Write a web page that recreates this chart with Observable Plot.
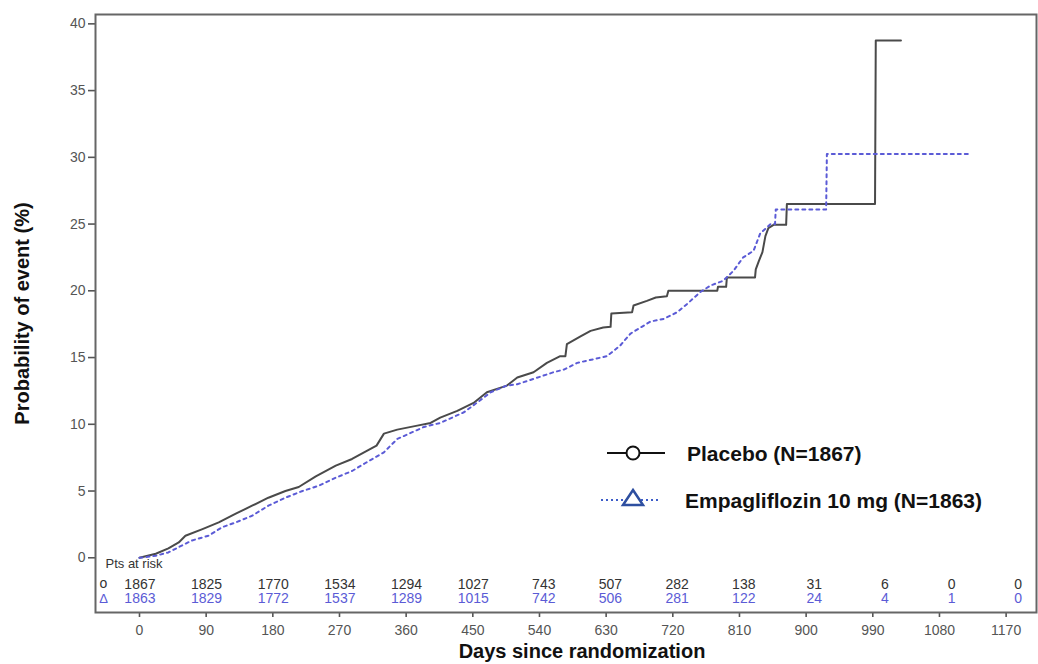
<!DOCTYPE html>
<html>
<head>
<meta charset="utf-8">
<script src="https://cdn.jsdelivr.net/npm/d3@7"></script>
<script src="https://cdn.jsdelivr.net/npm/@observablehq/plot@0.6"></script>
<style>
  html, body { margin: 0; padding: 0; background: #fff; }
  #wrap { position: relative; width: 1038px; height: 664px; overflow: hidden; font-family: "Liberation Sans", Arial, sans-serif; }
  #wrap svg [aria-label="x-axis tick"], #wrap svg [aria-label="y-axis tick"] { stroke-width: 1.6; }
  #legend { position: absolute; left: 0; top: 0; pointer-events: none; }
</style>
</head>
<body>
<div id="wrap"></div>
<script>
// ---- data (corner points of the Kaplan-Meier curves) ----
const seriesNames = ["Placebo (N=1867)", "Empagliflozin 10 mg (N=1863)"];

const placeboDays = [0, 22, 39, 53, 62, 85, 107, 130, 152, 174, 197, 215, 238, 265, 287, 310, 320, 330, 348, 375, 393, 406, 429, 451, 469, 496, 510, 532, 550, 568, 575, 577, 596, 609, 626, 636, 637, 665, 667, 685, 697, 712, 714, 780, 781, 792, 793, 831, 832, 836, 841, 843, 845, 849, 856, 873, 874, 993, 994, 1028];
const placeboProb = [0, 0.3, 0.7, 1.15, 1.65, 2.15, 2.65, 3.3, 3.9, 4.5, 5.0, 5.3, 6.1, 6.9, 7.4, 8.1, 8.4, 9.3, 9.6, 9.9, 10.1, 10.5, 11.0, 11.6, 12.4, 12.9, 13.5, 13.9, 14.6, 15.1, 15.1, 16.0, 16.6, 17.0, 17.25, 17.3, 18.3, 18.4, 18.9, 19.25, 19.5, 19.6, 20.0, 20.0, 20.3, 20.3, 21.0, 21.0, 21.6, 22.2, 22.9, 23.5, 24.1, 24.7, 24.94, 24.94, 26.5, 26.5, 38.75, 38.75];

const empaDays = [0, 22, 39, 53, 71, 93, 112, 130, 152, 174, 197, 220, 242, 265, 287, 305, 330, 348, 384, 406, 438, 460, 474, 496, 510, 532, 559, 573, 591, 631, 649, 663, 690, 708, 726, 739, 757, 771, 788, 802, 815, 829, 838, 852, 858, 859, 927, 928, 1122];
const empaProb = [0, 0.15, 0.4, 0.8, 1.3, 1.65, 2.3, 2.65, 3.15, 3.9, 4.5, 5.0, 5.4, 6.0, 6.5, 7.1, 7.9, 8.9, 9.8, 10.1, 10.9, 11.8, 12.4, 12.9, 13.0, 13.4, 13.9, 14.1, 14.6, 15.1, 15.9, 16.8, 17.7, 17.9, 18.4, 19.0, 19.9, 20.4, 20.75, 21.5, 22.5, 23.0, 24.3, 25.0, 25.0, 26.1, 26.1, 30.24, 30.24];

const xTicks = [0, 90, 180, 270, 360, 450, 540, 630, 720, 810, 900, 990, 1080, 1170];
const yTicks = [0, 5, 10, 15, 20, 25, 30, 35, 40];
const riskPlacebo = [1867, 1825, 1770, 1534, 1294, 1027, 743, 507, 282, 138, 31, 6, 0, 0];
const riskEmpa = [1863, 1829, 1772, 1537, 1289, 1015, 742, 506, 281, 122, 24, 4, 1, 0];

// ---- build tables ----
const placeboData = placeboDays.map((d, i) => ({day: d, p: placeboProb[i]}));
const empaData = empaDays.map((d, i) => ({day: d, p: empaProb[i]}));

const placeboColor = "#4a4a4a";
const empaColor = "#5b5bd6";

const chart = Plot.plot({
  width: 1038,
  height: 664,
  marginLeft: 95,
  marginRight: 2,
  marginTop: 14,
  marginBottom: 52,
  style: {fontFamily: "Liberation Sans, Arial, sans-serif", fontSize: "14px", color: "#555", background: "white", overflow: "visible"},
  x: {domain: [-59.4, 1211], ticks: xTicks, tickFormat: d => String(d), tickSize: 5, tickPadding: 8, label: null},
  y: {domain: [-4.1, 40.7], ticks: yTicks, tickSize: 7, tickPadding: 3, label: null},
  marks: [
    Plot.frame({stroke: "#666", strokeWidth: 2}),
    Plot.line(placeboData, {x: "day", y: "p", stroke: placeboColor, strokeWidth: 2}),
    Plot.line(empaData, {x: "day", y: "p", stroke: empaColor, strokeWidth: 2, strokeDasharray: "3,4"}),
    Plot.text(["Pts at risk"], {frameAnchor: "bottom-left", dx: 10, dy: -45, textAnchor: "start", fontSize: 13, fill: "#333"}),
    Plot.text(["o"], {frameAnchor: "bottom-left", dx: 8, dy: -25, textAnchor: "middle", fontSize: 14, fill: "#333"}),
    Plot.text(["\u0394"], {frameAnchor: "bottom-left", dx: 8, dy: -10, textAnchor: "middle", fontSize: 13, fill: empaColor}),
    Plot.text(xTicks, {x: d => d, text: (d, i) => String(riskPlacebo[i]), frameAnchor: "bottom", dy: -24, dx: 16, textAnchor: "end", fontSize: 14, fill: "#333"}),
    Plot.text(xTicks, {x: d => d, text: (d, i) => String(riskEmpa[i]), frameAnchor: "bottom", dy: -10, dx: 16, textAnchor: "end", fontSize: 14, fill: empaColor}),
    Plot.text(["Days since randomization"], {frameAnchor: "bottom", dy: 45, dx: 16, textAnchor: "middle", fontSize: 20, fontWeight: "bold", fill: "#111"}),
    Plot.text(["Probability of event (%)"], {frameAnchor: "left", dx: -73, rotate: -90, textAnchor: "middle", fontSize: 20, fontWeight: "bold", fill: "#111"})
  ]
});

const wrap = document.getElementById("wrap");
wrap.appendChild(chart);

// ---- legend overlay ----
const lg = d3.select(wrap).append("svg").attr("id", "legend").attr("width", 1038).attr("height", 664)
  .style("font-family", "Liberation Sans, Arial, sans-serif");

lg.append("line").attr("x1", 607).attr("x2", 665).attr("y1", 453).attr("y2", 453).attr("stroke", "#111").attr("stroke-width", 2);
lg.append("circle").attr("cx", 633).attr("cy", 453).attr("r", 6.5).attr("fill", "white").attr("stroke", "#111").attr("stroke-width", 2);
lg.append("text").attr("x", 687).attr("y", 453).attr("dominant-baseline", "central").attr("font-size", 21).attr("font-weight", "bold").attr("fill", "#111").text(seriesNames[0]);

lg.append("line").attr("x1", 601).attr("x2", 661).attr("y1", 500).attr("y2", 500).attr("stroke", "#3c5cc8").attr("stroke-width", 2).attr("stroke-dasharray", "2,3");
lg.append("path").attr("d", "M633,490L643,505L623,505Z").attr("fill", "white").attr("stroke", "#2e4fa0").attr("stroke-width", 2.5);
lg.append("text").attr("x", 685).attr("y", 500).attr("dominant-baseline", "central").attr("font-size", 21).attr("font-weight", "bold").attr("fill", "#111").text(seriesNames[1]);
</script>
</body>
</html>
